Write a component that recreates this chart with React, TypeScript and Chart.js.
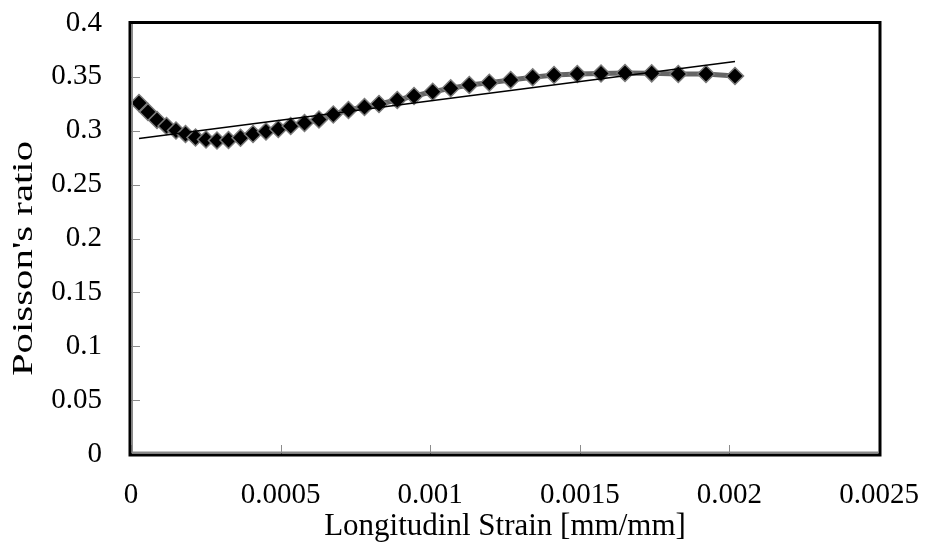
import React, { useEffect, useRef } from "react";
import { Chart, registerables } from "chart.js";

Chart.register(...registerables);

// Longitudinal strain [mm/mm] of each reading
const strain = [
  0.0000267, 0.0000568, 0.0000869, 0.0001187, 0.0001504, 0.0001822, 0.0002156,
  0.0002507, 0.0002874, 0.0003259, 0.000366, 0.0004078, 0.0004512, 0.0004923,
  0.0005337, 0.0005799, 0.0006283, 0.0006761, 0.0007269, 0.0007804, 0.0008289,
  0.00089, 0.0009459, 0.0010084, 0.0010685, 0.0011307, 0.0011975, 0.001269,
  0.0013426, 0.0014138, 0.0014916, 0.0015709, 0.0016511, 0.0017403, 0.0018292,
  0.0019218, 0.0020187,
];

// Poisson's ratio at each reading
const poisson = [
  0.3258, 0.3174, 0.31, 0.3044, 0.3002, 0.297, 0.2937, 0.2919, 0.291, 0.2914,
  0.2935, 0.297, 0.2993, 0.3016, 0.3044, 0.3072, 0.3104, 0.3151, 0.3193, 0.322,
  0.3248, 0.3285, 0.3323, 0.3362, 0.3394, 0.3425, 0.3446, 0.3471, 0.3496,
  0.3517, 0.3527, 0.3531, 0.3536, 0.3533, 0.3527, 0.3527, 0.3508,
];

// Linear trendline end points
const trendStrain = [0.0000267, 0.0020187];
const trendPoisson = [0.2928, 0.3642];

const xTickLabels = ["0", "0.0005", "0.001", "0.0015", "0.002", "0.0025"];
const yTickLabels = ["0", "0.05", "0.1", "0.15", "0.2", "0.25", "0.3", "0.35", "0.4"];

const xTitle = "Longitudinl Strain [mm/mm]";
const yTitle = "Poisson's ratio";

const FONT = "'Liberation Serif', 'Times New Roman', serif";
const TICK_SIZE = 29;
const TITLE_SIZE = 31;

// Inward tick marks, the double-lined plot frame and the vertical axis title
const framePlugin = {
  id: "frame",
  beforeDatasetsDraw(chart: any) {
    const { ctx, chartArea: a, scales } = chart;
    ctx.save();
    ctx.strokeStyle = "#8c8c8c";
    ctx.lineWidth = 1;
    ctx.beginPath();
    scales.y.ticks.forEach((t: any) => {
      const py = Math.round(scales.y.getPixelForValue(t.value)) + 0.5;
      ctx.moveTo(a.left, py);
      ctx.lineTo(a.left + 9, py);
    });
    scales.x.ticks.forEach((t: any) => {
      const px = Math.round(scales.x.getPixelForValue(t.value)) + 0.5;
      ctx.moveTo(px, a.bottom);
      ctx.lineTo(px, a.bottom - 9);
    });
    ctx.stroke();
    ctx.restore();
  },
  afterDatasetsDraw(chart: any) {
    const { ctx, chartArea: a } = chart;
    ctx.save();
    // black outer border
    ctx.strokeStyle = "#000";
    ctx.lineWidth = 3;
    ctx.strokeRect(a.left - 1, a.top - 0.5, a.right - a.left + 2, a.bottom - a.top + 1.5);
    // gray inner lines on left and bottom
    ctx.strokeStyle = "#8a8a8a";
    ctx.lineWidth = 1.5;
    ctx.beginPath();
    ctx.moveTo(a.left + 1.25, a.top + 1);
    ctx.lineTo(a.left + 1.25, a.bottom - 1.75);
    ctx.lineTo(a.right - 1, a.bottom - 1.75);
    ctx.stroke();
    ctx.restore();

    // vertical axis title
    ctx.save();
    ctx.fillStyle = "#000";
    ctx.font = `30px ${FONT}`;
    ctx.textAlign = "center";
    ctx.textBaseline = "alphabetic";
    ctx.translate(32, (a.top + a.bottom) / 2 + 20);
    ctx.rotate(-Math.PI / 2);
    ctx.scale(1.36, 1);
    ctx.fillText(yTitle, 0, 0);
    ctx.restore();
  },
};

export default function App() {
  const ref = useRef<HTMLCanvasElement | null>(null);

  useEffect(() => {
    if (!ref.current) return;
    const series = strain.map((x, i) => ({ x, y: poisson[i] }));
    const trend = trendStrain.map((x, i) => ({ x, y: trendPoisson[i] }));

    const chart = new Chart(ref.current, {
      type: "scatter",
      data: {
        datasets: [
          {
            label: "Linear trend",
            data: trend,
            showLine: true,
            borderColor: "#000",
            borderWidth: 1.6,
            pointRadius: 0,
            fill: false,
          },
          {
            label: "Poisson's ratio",
            data: series,
            showLine: true,
            borderColor: "#666666",
            borderWidth: 5,
            pointStyle: "rectRot",
            pointRadius: 8.5,
            pointBackgroundColor: "#000",
            pointBorderColor: "#7a7a7a",
            pointBorderWidth: 1.5,
            fill: false,
          },
        ],
      },
      options: {
        responsive: false,
        animation: false,
        events: [],
        layout: { padding: { top: 23, right: 47, left: 0, bottom: 0 } },
        plugins: {
          legend: { display: false },
          tooltip: { enabled: false },
        },
        scales: {
          x: {
            type: "linear",
            min: 0,
            max: 0.0025,
            border: { display: false },
            grid: { display: false, drawTicks: false },
            ticks: {
              stepSize: 0.0005,
              padding: 24,
              color: "#000",
              font: { family: FONT, size: TICK_SIZE },
              maxRotation: 0,
              autoSkip: false,
              callback: (_v: any, i: number) => xTickLabels[i],
            },
            title: {
              display: true,
              text: xTitle,
              color: "#000",
              font: { family: FONT, size: TITLE_SIZE },
              padding: { top: 0, bottom: 0 },
            },
            afterFit: (s: any) => {
              s.height = 91;
              s.paddingLeft = 0;
              s.paddingRight = 0;
            },
          },
          y: {
            type: "linear",
            min: 0,
            max: 0.4,
            border: { display: false },
            grid: { display: false, drawTicks: false },
            ticks: {
              stepSize: 0.05,
              padding: 29,
              color: "#000",
              font: { family: FONT, size: TICK_SIZE },
              autoSkip: false,
              callback: (_v: any, i: number) => yTickLabels[i],
            },
            title: { display: false },
            afterFit: (s: any) => {
              s.width = 131;
              s.paddingTop = 0;
              s.paddingBottom = 0;
            },
          },
        },
      },
      plugins: [framePlugin],
    });
    return () => chart.destroy();
  }, []);

  return (
    <div style={{ position: "fixed", left: 0, top: 0, width: 926, height: 545, background: "#fff" }}>
      <canvas ref={ref} width={926} height={545} style={{ display: "block" }} />
    </div>
  );
}
